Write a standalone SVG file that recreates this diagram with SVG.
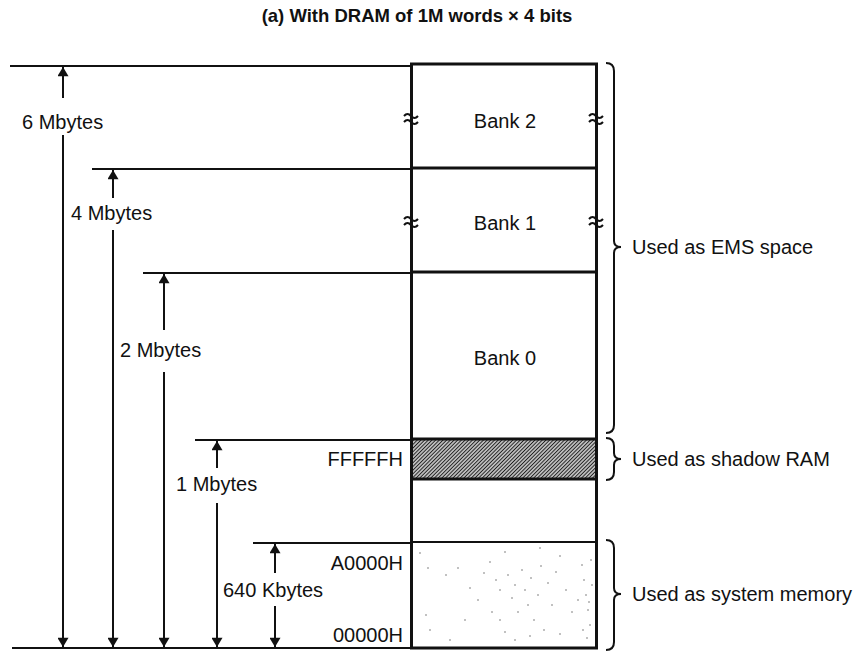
<svg xmlns="http://www.w3.org/2000/svg" width="868" height="652" viewBox="0 0 868 652">
<style>
  text { font-family: "Liberation Sans", Arial, sans-serif; font-size: 20px; fill: #111; }
  .title { font-weight: bold; font-size: 18.5px; }
  .dim { stroke: #111; stroke-width: 2; fill: none; }
  .box { stroke: #111; stroke-width: 3; fill: none; }
  .brace { stroke: #111; stroke-width: 2; fill: none; }
  .brk { stroke: #111; stroke-width: 2; fill: none; }
</style>
<defs>
  <marker id="ah" viewBox="0 0 10 12" refX="10" refY="6" markerWidth="10" markerHeight="11" markerUnits="userSpaceOnUse" orient="auto">
    <path d="M0,0 L10,6 L0,12 Z" fill="#111"/>
  </marker>
  <pattern id="hatch" width="2.6" height="2.6" patternUnits="userSpaceOnUse" patternTransform="rotate(45)">
    <rect width="2.6" height="2.6" fill="#bbb"/>
    <line x1="0" y1="0" x2="0" y2="2.6" stroke="#111" stroke-width="1.6"/>
  </pattern>
</defs>
<rect width="868" height="652" fill="#fff"/>

<text class="title" x="417" y="22" text-anchor="middle">(a)  With DRAM of 1M words × 4 bits</text>

<g id="memory">
  <rect id="shadow-fill" x="412" y="439" width="184" height="40" fill="url(#hatch)"/>
  <g id="stipple" fill="#555">
    <circle cx="420" cy="553" r="0.7"/><circle cx="428" cy="568" r="0.7"/><circle cx="446" cy="575" r="0.7"/>
    <circle cx="458" cy="568" r="0.7"/><circle cx="470" cy="588" r="0.7"/><circle cx="484" cy="573" r="0.7"/>
    <circle cx="490" cy="562" r="0.7"/><circle cx="496" cy="580" r="0.7"/><circle cx="500" cy="590" r="0.7"/>
    <circle cx="505" cy="552" r="0.7"/><circle cx="508" cy="575" r="0.7"/><circle cx="512" cy="598" r="0.7"/>
    <circle cx="515" cy="585" r="0.7"/><circle cx="518" cy="612" r="0.7"/><circle cx="522" cy="570" r="0.7"/>
    <circle cx="525" cy="590" r="0.7"/><circle cx="528" cy="605" r="0.7"/><circle cx="531" cy="578" r="0.7"/>
    <circle cx="534" cy="620" r="0.7"/><circle cx="538" cy="595" r="0.7"/><circle cx="541" cy="566" r="0.7"/>
    <circle cx="544" cy="630" r="0.7"/><circle cx="548" cy="583" r="0.7"/><circle cx="552" cy="605" r="0.7"/>
    <circle cx="556" cy="572" r="0.7"/><circle cx="560" cy="634" r="0.7"/><circle cx="566" cy="590" r="0.7"/>
    <circle cx="572" cy="612" r="0.7"/><circle cx="578" cy="600" r="0.7"/><circle cx="582" cy="565" r="0.7"/>
    <circle cx="584" cy="580" r="0.7"/><circle cx="586" cy="595" r="0.7"/><circle cx="588" cy="610" r="0.7"/>
    <circle cx="590" cy="625" r="0.7"/><circle cx="587" cy="638" r="0.7"/><circle cx="591" cy="560" r="0.7"/>
    <circle cx="592" cy="585" r="0.7"/><circle cx="589" cy="602" r="0.7"/><circle cx="583" cy="630" r="0.7"/>
    <circle cx="505" cy="632" r="0.7"/><circle cx="515" cy="640" r="0.7"/><circle cx="530" cy="636" r="0.7"/>
    <circle cx="492" cy="612" r="0.7"/><circle cx="478" cy="600" r="0.7"/><circle cx="465" cy="620" r="0.7"/>
    <circle cx="426" cy="615" r="0.7"/><circle cx="430" cy="630" r="0.7"/><circle cx="450" cy="640" r="0.7"/>
    <circle cx="500" cy="620" r="0.7"/><circle cx="540" cy="548" r="0.7"/><circle cx="560" cy="556" r="0.7"/>
  </g>
  <rect class="box" x="411.5" y="64" width="185" height="584"/>
  <line class="box" x1="411" y1="168" x2="597" y2="168"/>
  <line class="box" x1="411" y1="272" x2="597" y2="272"/>
  <line class="box" x1="411" y1="439" x2="597" y2="439"/>
  <line class="box" x1="411" y1="479" x2="597" y2="479"/>
  <line class="dim" x1="411" y1="542" x2="597" y2="542"/>
  <g id="breaks">
    <path class="brk" d="M404,116 q3.5,-4 7,0 t7,0 M404,122 q3.5,-4 7,0 t7,0"/>
    <path class="brk" d="M589,116 q3.5,-4 7,0 t7,0 M589,122 q3.5,-4 7,0 t7,0"/>
    <path class="brk" d="M404,219 q3.5,-4 7,0 t7,0 M404,225 q3.5,-4 7,0 t7,0"/>
    <path class="brk" d="M589,219 q3.5,-4 7,0 t7,0 M589,225 q3.5,-4 7,0 t7,0"/>
  </g>
</g>

<g id="bank2"><text x="505" y="128" text-anchor="middle">Bank 2</text></g>
<g id="bank1"><text x="505" y="230" text-anchor="middle">Bank 1</text></g>
<g id="bank0"><text x="505" y="365" text-anchor="middle">Bank 0</text></g>

<g id="addresses">
  <text x="403" y="466" text-anchor="end">FFFFFH</text>
  <text x="403" y="570" text-anchor="end">A0000H</text>
  <text x="403" y="642" text-anchor="end">00000H</text>
</g>

<g id="connectors">
  <line class="dim" x1="10" y1="66" x2="411" y2="66"/>
  <line class="dim" x1="92" y1="169" x2="411" y2="169"/>
  <line class="dim" x1="143" y1="273" x2="411" y2="273"/>
  <line class="dim" x1="195" y1="440" x2="411" y2="440"/>
  <line class="dim" x1="253" y1="543" x2="411" y2="543"/>
  <line class="dim" x1="12" y1="648" x2="411" y2="648"/>

  <line class="dim" x1="63" y1="98" x2="63" y2="67" marker-end="url(#ah)"/>
  <line class="dim" x1="63" y1="135" x2="63" y2="647" marker-end="url(#ah)"/>
  <line class="dim" x1="113" y1="198" x2="113" y2="170" marker-end="url(#ah)"/>
  <line class="dim" x1="113" y1="230" x2="113" y2="647" marker-end="url(#ah)"/>
  <line class="dim" x1="164" y1="330" x2="164" y2="274" marker-end="url(#ah)"/>
  <line class="dim" x1="164" y1="372" x2="164" y2="647" marker-end="url(#ah)"/>
  <line class="dim" x1="217" y1="468" x2="217" y2="441" marker-end="url(#ah)"/>
  <line class="dim" x1="217" y1="503" x2="217" y2="647" marker-end="url(#ah)"/>
  <line class="dim" x1="275" y1="573" x2="275" y2="544" marker-end="url(#ah)"/>
  <line class="dim" x1="275" y1="606" x2="275" y2="647" marker-end="url(#ah)"/>

  <path class="brace" d="M606,63 Q614,63 614,71 L614,241 Q614,247 621,247 Q614,247 614,253 L614,425 Q614,433 606,433"/>
  <path class="brace" d="M606,438 Q614,438 614,446 L614,453 Q614,459 621,459 Q614,459 614,465 L614,472 Q614,480 606,480"/>
  <path class="brace" d="M606,540 Q614,540 614,548 L614,588 Q614,594 621,594 Q614,594 614,600 L614,642 Q614,650 606,650"/>
</g>

<g id="dim-labels">
  <text x="22" y="129">6 Mbytes</text>
  <text x="71" y="220">4 Mbytes</text>
  <text x="120" y="357">2 Mbytes</text>
  <text x="176" y="491">1 Mbytes</text>
  <text x="223" y="597">640 Kbytes</text>
</g>

<g id="brace-labels">
  <text x="632" y="254">Used as EMS space</text>
  <text x="632" y="466">Used as shadow RAM</text>
  <text x="632" y="601">Used as system memory</text>
</g>
</svg>
